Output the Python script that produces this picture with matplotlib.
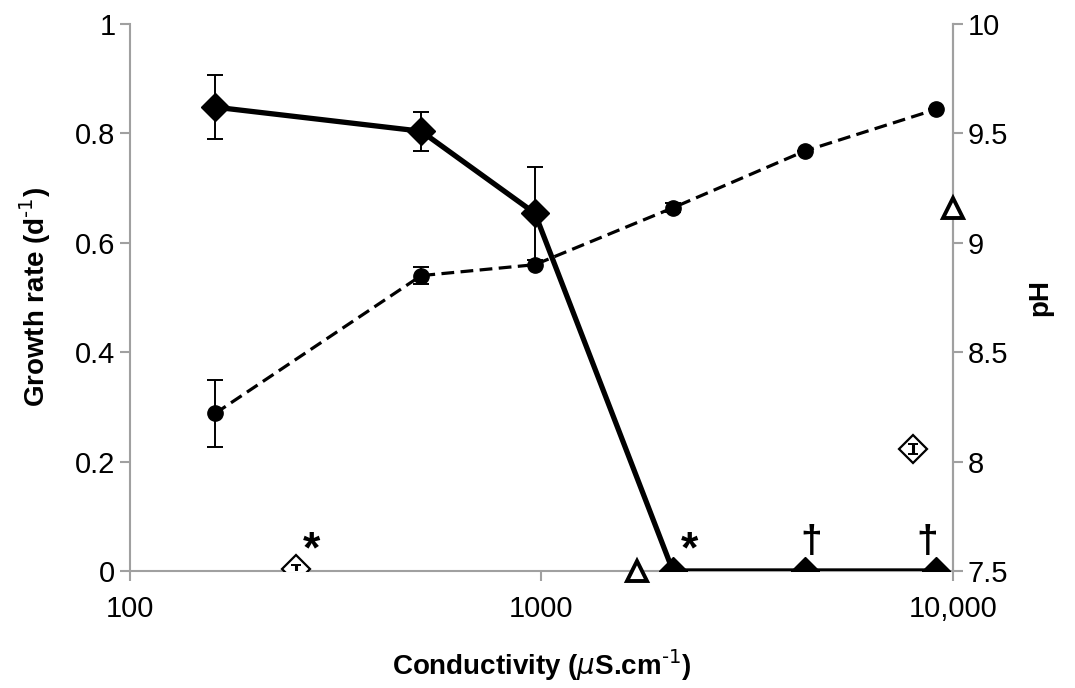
import matplotlib
matplotlib.use('Agg')
import matplotlib.pyplot as plt
from matplotlib.ticker import FixedLocator, FixedFormatter, NullLocator

plt.rcParams['font.family'] = ['Liberation Sans', 'DejaVu Sans']
plt.rcParams['mathtext.default'] = 'regular'

# growth rate (solid diamonds, left axis)
cond_growth = [161, 510, 964, 2087, 4370, 9094]
growth = [0.848, 0.804, 0.654, 0.0, 0.0, 0.0]
growth_err = [0.058, 0.036, 0.085, 0, 0, 0]

# pH (circles, dashed, right axis)
cond_ph = [161, 510, 964, 2087, 4370, 9094]
ph = [8.22, 8.85, 8.90, 9.16, 9.42, 9.61]
ph_err = [0.155, 0.04, 0, 0.02, 0, 0]

# open diamonds (growth, left axis)
cond_open = [253, 7993]
growth_open = [0.003, 0.223]
growth_open_err = [0.008, 0.009]

# triangles (pH, right axis)
cond_tri = [1708, 10000]
ph_tri = [7.5, 9.16]

# annotations: (x, growth value, symbol)
note_x = [276, 2290, 4520, 8650]
note_y = [0.0, 0.0, 0.02, 0.02]
note_txt = ['*', '*', '\u2020', '\u2020']

x_ticks = [100, 1000, 10000]
x_labels = ['100', '1000', '10,000']

fig = plt.figure(figsize=(10.75, 6.88), dpi=100)
ax = fig.add_axes([0.1209, 0.1701, 0.7656, 0.795])
ax2 = ax.twinx()

grey = '#a0a0a0'

ax.errorbar(cond_growth, growth, yerr=growth_err, color='black', lw=3.8,
            marker='D', ms=14, capsize=6, elinewidth=1.4, capthick=1.4,
            zorder=5)
ax.plot(cond_open, growth_open, ls='none', marker='D', ms=14, mfc='white',
        mec='black', mew=1.6, zorder=6)
ax.errorbar(cond_open, growth_open, yerr=growth_open_err, fmt='none',
            ecolor='black', capsize=3.5, elinewidth=2.2, capthick=1.4,
            zorder=7)

ax2.errorbar(cond_ph, ph, yerr=ph_err, color='black', lw=2.3, ls=(0, (4, 2)),
             marker='o', ms=11, capsize=6, elinewidth=1.4, capthick=1.4,
             zorder=4)
ax2.plot(cond_tri, ph_tri, ls='none', marker='^', ms=14, mfc='white',
         mec='black', mew=2.8, clip_on=False, zorder=7)

for x, y, t in zip(note_x, note_y, note_txt):
    ax.text(x, y, t, fontsize=32 if t == '*' else 28, fontweight='bold',
            ha='center', va='bottom')

ax.set_xscale('log')
ax.set_xlim(100, 10000)
ax.set_ylim(0, 1)
ax2.set_ylim(7.5, 10)

ax.xaxis.set_major_locator(FixedLocator(x_ticks))
ax.xaxis.set_major_formatter(FixedFormatter(x_labels))
ax.xaxis.set_minor_locator(NullLocator())
ax.set_yticks([0, 0.2, 0.4, 0.6, 0.8, 1])
ax.set_yticklabels(['0', '0.2', '0.4', '0.6', '0.8', '1'])
ax2.set_yticks([7.5, 8, 8.5, 9, 9.5, 10])
ax2.set_yticklabels(['7.5', '8', '8.5', '9', '9.5', '10'])

for a in (ax, ax2):
    a.spines['top'].set_visible(False)
    for s in ('left', 'right', 'bottom'):
        a.spines[s].set_color(grey)
        a.spines[s].set_linewidth(1.5)
    a.tick_params(colors=grey, labelcolor='black', labelsize=21,
                  length=7, width=1.5)
ax2.spines['left'].set_visible(False)
ax2.spines['bottom'].set_visible(False)
ax.tick_params(axis='x', pad=10)

ax.set_xlabel('Conductivity ($\\mathit{\\mu}$S.cm$^{\\text{-1}}$)', fontsize=20,
              fontweight='bold', labelpad=18)
ax.set_ylabel('Growth rate (d$^{\\text{-1}}$)', fontsize=20, fontweight='bold',
              labelpad=16)
ax2.set_ylabel('pH', fontsize=20, fontweight='bold', labelpad=14)

fig.savefig('out.png', dpi=100)
